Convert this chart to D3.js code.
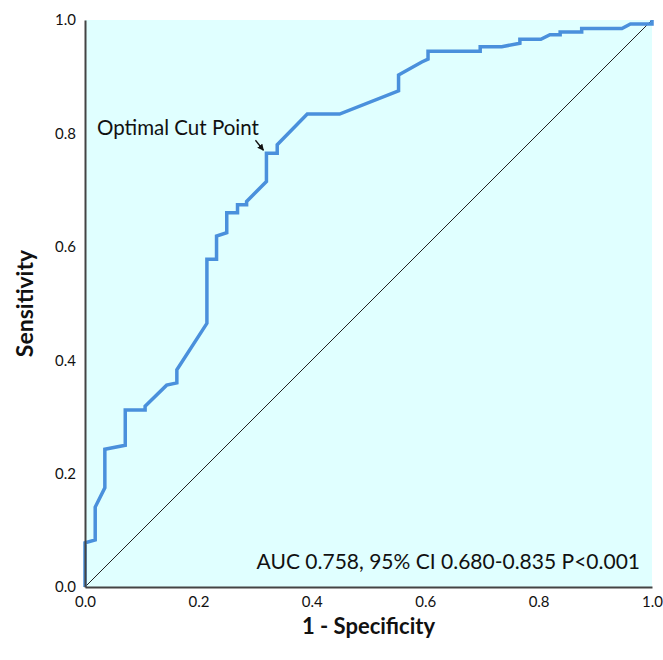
<!DOCTYPE html>
<html>
<head>
<meta charset="utf-8">
<script src="https://cdn.jsdelivr.net/npm/d3@7"></script>
<style>
  body { margin: 0; background: #fff; }
  text { font-family: "Lato", "Open Sans", sans-serif; }
</style>
</head>
<body>
<script>
// ROC curve points: [1 - specificity, sensitivity]
var fpr = [0, 0, 0.018, 0.018, 0.035, 0.035, 0.071, 0.071, 0.106, 0.106, 0.144, 0.162, 0.162,
  0.215, 0.215, 0.232, 0.232, 0.250, 0.250, 0.269, 0.269, 0.285, 0.285, 0.320, 0.320, 0.339,
  0.339, 0.392, 0.449, 0.553, 0.553, 0.594, 0.605, 0.605, 0.697, 0.697, 0.735, 0.767, 0.767,
  0.804, 0.820, 0.838, 0.838, 0.876, 0.876, 0.947, 0.962, 1.0, 1.0];
var tpr = [0, 0.078, 0.083, 0.141, 0.175, 0.243, 0.250, 0.312, 0.312, 0.319, 0.356, 0.360, 0.383,
  0.465, 0.578, 0.578, 0.619, 0.625, 0.660, 0.660, 0.674, 0.674, 0.680, 0.715, 0.765, 0.765,
  0.780, 0.834, 0.834, 0.875, 0.903, 0.926, 0.931, 0.945, 0.945, 0.953, 0.953, 0.959, 0.966,
  0.966, 0.974, 0.974, 0.979, 0.979, 0.985, 0.985, 0.993, 0.993, 1.0];
var ticks = [0, 0.2, 0.4, 0.6, 0.8, 1.0];
var cutPoint = [0.320, 0.765];
var aucText = "AUC 0.758, 95% CI 0.680-0.835 P<0.001";

var w = 663, h = 660;
var mLeft = 85, mRight = 652, mTop = 20, mBottom = 587;

var svg = d3.select("body").append("svg")
  .attr("width", w)
  .attr("height", h);

var x = d3.scaleLinear().domain([0, 1]).range([mLeft, mRight]);
var y = d3.scaleLinear().domain([0, 1]).range([mBottom, mTop]);

svg.append("rect")
  .attr("x", mLeft).attr("y", mTop)
  .attr("width", mRight - mLeft).attr("height", mBottom - mTop)
  .attr("fill", "#e0ffff");

// reference diagonal
svg.append("line")
  .attr("x1", x(0)).attr("y1", y(0))
  .attr("x2", x(1)).attr("y2", y(1))
  .attr("stroke", "#222").attr("stroke-width", 1);

var pts = fpr.map(function(d, i) { return [d, tpr[i]]; });
var line = d3.line()
  .x(function(d) { return x(d[0]); })
  .y(function(d) { return y(d[1]); });

svg.append("path")
  .datum(pts)
  .attr("d", line)
  .attr("fill", "none")
  .attr("stroke", "#4a90dc")
  .attr("stroke-width", 3.5)
  .attr("stroke-linejoin", "miter");

// axes, no tick marks
var xAxis = svg.append("g")
  .attr("transform", "translate(0," + mBottom + ")")
  .call(d3.axisBottom(x).tickValues(ticks).tickFormat(d3.format(".1f")).tickSize(0).tickPadding(9));
var yAxis = svg.append("g")
  .attr("transform", "translate(" + mLeft + ",0)")
  .call(d3.axisLeft(y).tickValues(ticks).tickFormat(d3.format(".1f")).tickSize(0).tickPadding(9));

[xAxis, yAxis].forEach(function(g) {
  g.select(".domain").attr("stroke", "#444").attr("stroke-width", 2);
  g.selectAll("text").attr("font-size", 15).attr("fill", "#111")
    .style("font-family", "Lato, sans-serif");
});

svg.append("text")
  .attr("x", (mLeft + mRight) / 2).attr("y", 634)
  .attr("text-anchor", "middle")
  .attr("font-size", 22).attr("font-weight", "bold").attr("fill", "#111")
  .text("1 - Specificity");

svg.append("text")
  .attr("transform", "translate(33," + ((mTop + mBottom) / 2) + ") rotate(-90)")
  .attr("text-anchor", "middle")
  .attr("font-size", 23).attr("font-weight", "bold").attr("fill", "#111")
  .text("Sensitivity");

// annotation
svg.append("defs").append("marker")
  .attr("id", "arr")
  .attr("viewBox", "0 0 10 10")
  .attr("refX", 9).attr("refY", 5)
  .attr("markerWidth", 5).attr("markerHeight", 5)
  .attr("orient", "auto")
  .append("path").attr("d", "M0,0L10,5L0,10z").attr("fill", "#111");

svg.append("text")
  .attr("x", 97).attr("y", 135)
  .attr("font-size", 20.5).attr("fill", "#111")
  .text("Optimal Cut Point");

svg.append("line")
  .attr("x1", x(cutPoint[0]) - 11).attr("y1", y(cutPoint[1]) - 13)
  .attr("x2", x(cutPoint[0]) - 3).attr("y2", y(cutPoint[1]) - 3)
  .attr("stroke", "#111").attr("stroke-width", 1.3)
  .attr("marker-end", "url(#arr)");

svg.append("text")
  .attr("x", 640).attr("y", 569)
  .attr("text-anchor", "end")
  .attr("font-size", 21).attr("fill", "#111")
  .text(aucText);
</script>
</body>
</html>
